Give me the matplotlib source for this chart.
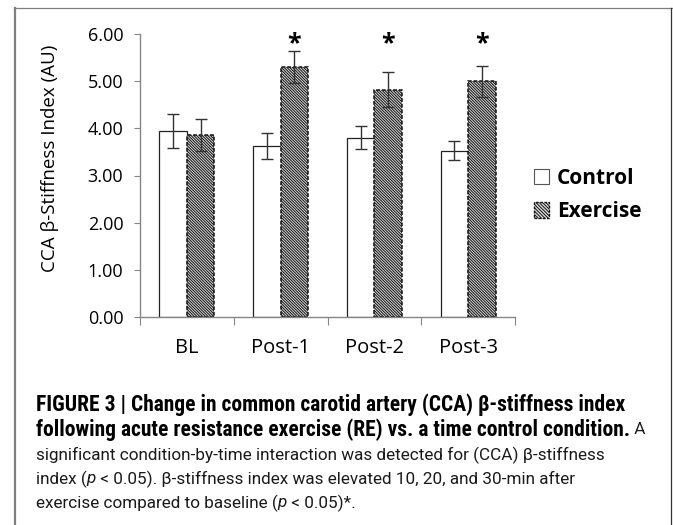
import matplotlib
matplotlib.use("Agg")
import matplotlib.pyplot as plt
from matplotlib.patches import Patch
from matplotlib.lines import Line2D
import numpy as np

categories = ["BL", "Post-1", "Post-2", "Post-3"]
control = [3.94, 3.63, 3.80, 3.53]
control_err = [0.36, 0.27, 0.24, 0.21]
exercise = [3.86, 5.31, 4.82, 5.00]
exercise_err = [0.34, 0.34, 0.37, 0.33]
significant = [False, True, True, True]
yticks = [0, 1, 2, 3, 4, 5, 6]

plt.rcParams['hatch.linewidth'] = 0.7
plt.rcParams['hatch.color'] = '#4a4a4a'
CHART_FONT = ['Open Sans', 'DejaVu Sans']
BOLD_CAP = ['Liberation Sans Narrow', 'Roboto Condensed', 'Liberation Sans', 'DejaVu Sans']
BODY_CAP = ['Roboto', 'Liberation Sans', 'DejaVu Sans']

W, H = 673, 525
fig = plt.figure(figsize=(W / 100, H / 100), dpi=100)
ax = fig.add_axes([140 / W, 1 - 317 / H, 375 / W, 283 / H])

x = np.arange(len(categories))
w = 0.293
grey = '#868686'
ax.bar(x - w / 2, control, w, color='white', edgecolor='#222222', linewidth=0.9,
       yerr=control_err, error_kw=dict(ecolor='#333333', elinewidth=1, capsize=4.5, capthick=1),
       zorder=2)
ax.bar(x + w / 2, exercise, w, color='#d8d8d8', edgecolor='#111111', linewidth=1.1,
       linestyle=(0, (2.5, 1.2)), hatch='\\' * 12,
       yerr=exercise_err, error_kw=dict(ecolor='#333333', elinewidth=1, capsize=4.5, capthick=1),
       zorder=2)
for i, s in enumerate(significant):
    if s:
        ax.text(x[i] + w / 2, 5.80, '*', ha='center', va='center', fontsize=18,
                family=CHART_FONT, weight='bold', color='black')

ax.set_xlim(-0.5, len(categories) - 0.5)
ax.set_ylim(0, 6)
ax.set_yticks(yticks)
ax.set_yticklabels([f"{v:.2f}" for v in yticks], family=CHART_FONT, fontsize=13)
ax.set_xticks(np.arange(len(categories) + 1) - 0.5)
ax.set_xticklabels([])
ax.set_xticks(x, minor=True)
ax.set_xticklabels(categories, minor=True, family=CHART_FONT, fontsize=14.5)
ax.tick_params(axis='x', which='major', length=6, color=grey, direction='out')
ax.tick_params(axis='x', which='minor', length=0, pad=15)
ax.tick_params(axis='y', length=4, color=grey, pad=8)
for s in ['top', 'right']:
    ax.spines[s].set_visible(False)
for s in ['left', 'bottom']:
    ax.spines[s].set_color(grey)
    ax.spines[s].set_linewidth(1)

fig.text(50 / W, 1 - 158 / H, 'CCA β-Stiffness Index (AU)', rotation=90,
         ha='center', va='center', family=CHART_FONT, fontsize=13.5)

# legend
handles = [Patch(facecolor='white', edgecolor='#555555', linewidth=0.8),
           Patch(facecolor='#d8d8d8', edgecolor='#111111', linewidth=1.0,
                 linestyle=(0, (2, 1)), hatch='\\' * 10)]
leg = fig.legend(handles, ['Control', 'Exercise'], loc='center left',
                 bbox_to_anchor=(515 / W, 1 - 195 / H), frameon=False,
                 handlelength=0.75, handleheight=0.75, handletextpad=0.35,
                 labelspacing=0.6, prop=dict(family=CHART_FONT, weight='bold', size=15))

# frame lines
fig.add_artist(Line2D([14.5 / W, 14.5 / W], [0, 1 - 8 / H], transform=fig.transFigure,
                      color='#7f7f7f', linewidth=1.6))
fig.add_artist(Line2D([14 / W, 1], [1 - 8 / H, 1 - 8 / H], transform=fig.transFigure,
                      color='#7f7f7f', linewidth=0.9))
fig.add_artist(Line2D([671 / W, 671 / W], [0, 1 - 8 / H], transform=fig.transFigure,
                      color='#333333', linewidth=0.9))

# caption
cx = 36 / W
bsize = 15.5
rsize = 12.3
body_color = '#1a1a1a'
lines_y = [405, 430, 455, 479, 503]
def fy(py):
    return 1 - py / H

fig.text(cx, fy(lines_y[0]), 'FIGURE 3 | Change in common carotid artery (CCA) β-stiffness index',
         family=BOLD_CAP, weight='bold', fontsize=bsize, va='center')
t2 = fig.text(cx, fy(lines_y[1]), 'following acute resistance exercise (RE) vs. a time control condition.',
              family=BOLD_CAP, weight='bold', fontsize=bsize, va='center')
plt.annotate(' A', xy=(1, 0.5), xycoords=t2, va='center', ha='left', color=body_color,
             family=BODY_CAP, fontsize=rsize, annotation_clip=False)
fig.text(cx, fy(lines_y[2]), 'significant condition-by-time interaction was detected for (CCA) β-stiffness',
         family=BODY_CAP, fontsize=rsize, va='center', color=body_color)
p1 = fig.text(cx, fy(lines_y[3]), 'index (', family=BODY_CAP, fontsize=rsize, va='center',
              color=body_color)
p2 = plt.annotate('p', xy=(1, 0.5), xycoords=p1, va='center', ha='left', style='italic',
                  family=BODY_CAP, fontsize=rsize, annotation_clip=False, color=body_color)
plt.annotate(' < 0.05). β-stiffness index was elevated 10, 20, and 30-min after', xy=(1, 0.5),
             xycoords=p2, va='center', ha='left', family=BODY_CAP, color=body_color,
             fontsize=rsize, annotation_clip=False)
q1 = fig.text(cx, fy(lines_y[4]), 'exercise compared to baseline (', family=BODY_CAP,
              fontsize=rsize, va='center', color=body_color)
q2 = plt.annotate('p', xy=(1, 0.5), xycoords=q1, va='center', ha='left', style='italic',
                  family=BODY_CAP, fontsize=rsize, annotation_clip=False, color=body_color)
plt.annotate(' < 0.05)*.', xy=(1, 0.5), xycoords=q2, va='center', ha='left', color=body_color,
             family=BODY_CAP, fontsize=rsize, annotation_clip=False)

fig.savefig('out.png', dpi=100)
